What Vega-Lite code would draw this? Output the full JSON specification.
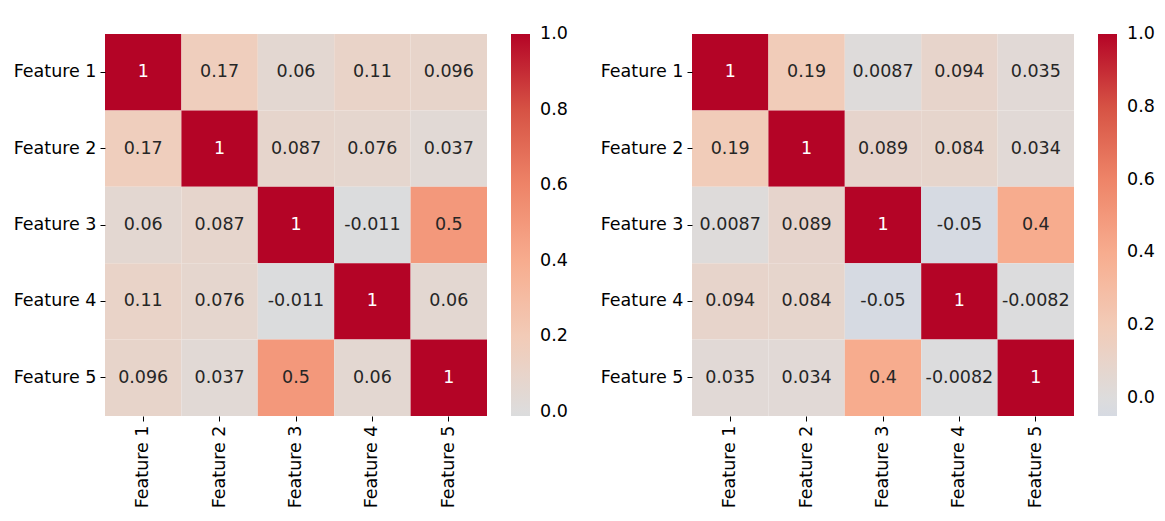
{
  "$schema": "https://vega.github.io/schema/vega-lite/v6.json",
  "padding": {"left": 13, "top": 34, "right": 0, "bottom": 0},
  "background": "white",
  "config": {
    "locale": {"number": {"decimal": ".", "thousands": ",", "grouping": [3], "currency": ["$", ""], "minus": "-"}},
    "view": {"stroke": null},
    "font": "DejaVu Sans",
    "axis": {"domain": false, "tickColor": "black", "tickSize": 5, "tickWidth": 1, "labelFontSize": 17.5, "labelColor": "black", "labelPadding": 4, "grid": false, "title": null},
    "legend": {"labelFontSize": 17.5, "labelColor": "black", "labelBaseline": "middle"}
  },
  "datasets": {
    "left": [
      {"row": "Feature 1", "col": "Feature 1", "value": 1},
      {"row": "Feature 1", "col": "Feature 2", "value": 0.17},
      {"row": "Feature 1", "col": "Feature 3", "value": 0.06},
      {"row": "Feature 1", "col": "Feature 4", "value": 0.11},
      {"row": "Feature 1", "col": "Feature 5", "value": 0.096},
      {"row": "Feature 2", "col": "Feature 1", "value": 0.17},
      {"row": "Feature 2", "col": "Feature 2", "value": 1},
      {"row": "Feature 2", "col": "Feature 3", "value": 0.087},
      {"row": "Feature 2", "col": "Feature 4", "value": 0.076},
      {"row": "Feature 2", "col": "Feature 5", "value": 0.037},
      {"row": "Feature 3", "col": "Feature 1", "value": 0.06},
      {"row": "Feature 3", "col": "Feature 2", "value": 0.087},
      {"row": "Feature 3", "col": "Feature 3", "value": 1},
      {"row": "Feature 3", "col": "Feature 4", "value": -0.011},
      {"row": "Feature 3", "col": "Feature 5", "value": 0.5},
      {"row": "Feature 4", "col": "Feature 1", "value": 0.11},
      {"row": "Feature 4", "col": "Feature 2", "value": 0.076},
      {"row": "Feature 4", "col": "Feature 3", "value": -0.011},
      {"row": "Feature 4", "col": "Feature 4", "value": 1},
      {"row": "Feature 4", "col": "Feature 5", "value": 0.06},
      {"row": "Feature 5", "col": "Feature 1", "value": 0.096},
      {"row": "Feature 5", "col": "Feature 2", "value": 0.037},
      {"row": "Feature 5", "col": "Feature 3", "value": 0.5},
      {"row": "Feature 5", "col": "Feature 4", "value": 0.06},
      {"row": "Feature 5", "col": "Feature 5", "value": 1}
    ],
    "right": [
      {"row": "Feature 1", "col": "Feature 1", "value": 1},
      {"row": "Feature 1", "col": "Feature 2", "value": 0.19},
      {"row": "Feature 1", "col": "Feature 3", "value": 0.0087},
      {"row": "Feature 1", "col": "Feature 4", "value": 0.094},
      {"row": "Feature 1", "col": "Feature 5", "value": 0.035},
      {"row": "Feature 2", "col": "Feature 1", "value": 0.19},
      {"row": "Feature 2", "col": "Feature 2", "value": 1},
      {"row": "Feature 2", "col": "Feature 3", "value": 0.089},
      {"row": "Feature 2", "col": "Feature 4", "value": 0.084},
      {"row": "Feature 2", "col": "Feature 5", "value": 0.034},
      {"row": "Feature 3", "col": "Feature 1", "value": 0.0087},
      {"row": "Feature 3", "col": "Feature 2", "value": 0.089},
      {"row": "Feature 3", "col": "Feature 3", "value": 1},
      {"row": "Feature 3", "col": "Feature 4", "value": -0.05},
      {"row": "Feature 3", "col": "Feature 5", "value": 0.4},
      {"row": "Feature 4", "col": "Feature 1", "value": 0.094},
      {"row": "Feature 4", "col": "Feature 2", "value": 0.084},
      {"row": "Feature 4", "col": "Feature 3", "value": -0.05},
      {"row": "Feature 4", "col": "Feature 4", "value": 1},
      {"row": "Feature 4", "col": "Feature 5", "value": -0.0082},
      {"row": "Feature 5", "col": "Feature 1", "value": 0.035},
      {"row": "Feature 5", "col": "Feature 2", "value": 0.034},
      {"row": "Feature 5", "col": "Feature 3", "value": 0.4},
      {"row": "Feature 5", "col": "Feature 4", "value": -0.0082},
      {"row": "Feature 5", "col": "Feature 5", "value": 1}
    ]
  },
  "hconcat": [
    {
      "data": {"name": "left"},
      "width": 382,
      "height": 382,
      "encoding": {
        "x": {"field": "col", "type": "nominal", "title": null, "scale": {"paddingInner": 0, "paddingOuter": 0}, "axis": {"labelAngle": -90}},
        "y": {"field": "row", "type": "nominal", "title": null, "scale": {"paddingInner": 0, "paddingOuter": 0}}
      },
      "layer": [
        {
          "mark": {"type": "rect", "x2Offset": 0.6, "y2Offset": 0.6},
          "encoding": {
            "color": {
              "field": "value", "type": "quantitative",
              "scale": {"domain": [-0.011, 0, 0.2, 0.4, 0.6, 0.8, 1], "range": ["#dbdcdd", "#dddcdc", "#f2cbb7", "#f7ac8e", "#ee8468", "#d65244", "#b40426"], "interpolate": "rgb"},
              "legend": {"title": null, "orient": "right", "values": [0, 0.2, 0.4, 0.6, 0.8, 1], "format": ".1f", "gradientLength": 382, "gradientThickness": 19, "offset": 24, "labelOffset": 10, "labelOverlap": false, "gradientStrokeWidth": 0,
                "encode": {"labels": {"update": {"baseline": {"value": "middle"}}}}}
            }
          }
        },
        {
          "mark": {"type": "text", "fontSize": 17.5},
          "encoding": {
            "text": {"field": "value", "type": "quantitative", "format": ".2~g"},
            "color": {"condition": {"test": "datum.value > 0.9", "value": "white"}, "value": "#262626"}
          }
        }
      ]
    },
    {
      "data": {"name": "right"},
      "width": 382,
      "height": 382,
      "encoding": {
        "x": {"field": "col", "type": "nominal", "title": null, "scale": {"paddingInner": 0, "paddingOuter": 0}, "axis": {"labelAngle": -90}},
        "y": {"field": "row", "type": "nominal", "title": null, "scale": {"paddingInner": 0, "paddingOuter": 0}}
      },
      "layer": [
        {
          "mark": {"type": "rect", "x2Offset": 0.6, "y2Offset": 0.6},
          "encoding": {
            "color": {
              "field": "value", "type": "quantitative",
              "scale": {"domain": [-0.05, 0, 0.2, 0.4, 0.6, 0.8, 1], "range": ["#d6dae2", "#dddcdc", "#f2cbb7", "#f7ac8e", "#ee8468", "#d65244", "#b40426"], "interpolate": "rgb"},
              "legend": {"title": null, "orient": "right", "values": [0, 0.2, 0.4, 0.6, 0.8, 1], "format": ".1f", "gradientLength": 382, "gradientThickness": 19, "offset": 24, "labelOffset": 10, "labelOverlap": false, "gradientStrokeWidth": 0,
                "encode": {"labels": {"update": {"baseline": {"value": "middle"}}}}}
            }
          }
        },
        {
          "mark": {"type": "text", "fontSize": 17.5},
          "encoding": {
            "text": {"field": "value", "type": "quantitative", "format": ".2~g"},
            "color": {"condition": {"test": "datum.value > 0.9", "value": "white"}, "value": "#262626"}
          }
        }
      ]
    }
  ],
  "resolve": {"scale": {"color": "independent"}},
  "spacing": 32
}
